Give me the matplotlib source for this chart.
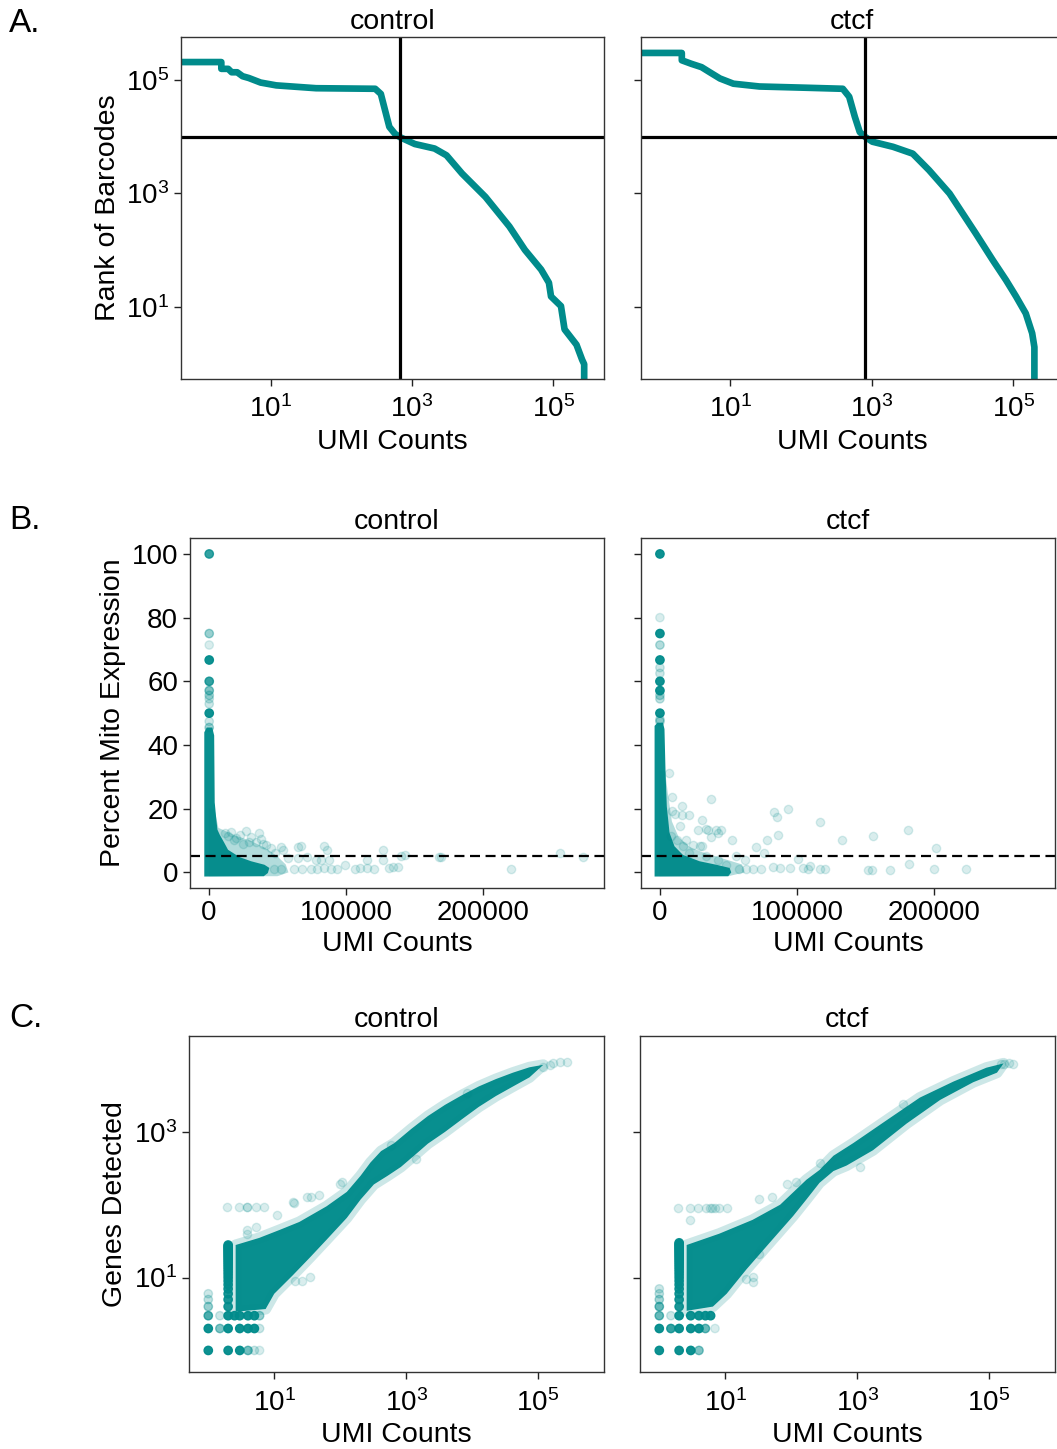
import numpy as np
import matplotlib
matplotlib.use('Agg')
import matplotlib.pyplot as plt
from matplotlib.ticker import NullLocator

plt.rcParams['font.family'] = ['Liberation Sans', 'DejaVu Sans']
plt.rcParams['mathtext.default'] = 'regular'

TEAL = 'darkcyan'
W, H = 1057, 1449
LABEL_FS = 20.5
TICK_FS = 20
samples = ['control', 'ctcf']

# ---------------- A. knee plot (UMI counts vs barcode rank) ----------------
knee_umi = {
    'control': [0.3, 2, 2, 2.5, 2.8, 3.35, 4, 4.9, 7.2, 12, 44, 302, 363, 417, 479, 575, 676,
                1100, 2090, 3090, 5130, 11000, 24000, 39800, 67600, 87100, 93300, 129000,
                145000, 214000, 257000, 275000, 275000],
    'ctcf': [0.3, 2.05, 2.05, 2.8, 3.9, 5.1, 7.1, 11, 25.7, 107, 389, 479, 575, 676, 813, 1020,
             2000, 3800, 6460, 12600, 29500, 51300, 79400, 110000, 151000, 186000, 200000,
             200000, 200000],
}
knee_rank = {
    'control': [204000, 204000, 155000, 155000, 135000, 135000, 115000, 107000, 89000, 79400,
                70800, 69200, 56200, 28800, 14800, 11200, 9770, 7400, 6170, 4680, 2240, 870,
                263, 102, 46, 27, 15.5, 10.5, 4.1, 2.2, 1.2, 1, 0.3],
    'ctcf': [295000, 295000, 219000, 190000, 166000, 135000, 105000, 85000, 75900, 72400, 69200,
             50100, 22400, 12000, 9770, 8130, 6610, 5010, 2570, 1000, 200, 68, 30, 15.5, 7.8,
             3.5, 2, 1, 0.3],
}
umi_cutoff = {'control': 676, 'ctcf': 813}
rank_cutoff = 10000

# ---------------- B. percent mito vs UMI counts ----------------
# outline of the saturated region and of the lighter halo around it
mito_core_x = {
    'control': [-3300, -3300, -1500, 2500, 3900, 4300, 5500, 6300, 8000, 11000, 14000, 22400,
                30800, 40500, 44100, 43000, 40000, -3300],
    'ctcf': [-3600, -3600, -1500, 2500, 3600, 4400, 5300, 7300, 10900, 17000, 29100, 41300,
             51000, 52200, 50000, -3600],
}
mito_core_y = {
    'control': [-1.3, 44, 45.5, 45.5, 43, 22, 16.5, 13.4, 11.8, 9.5, 7.1, 4.8, 3.5, 2.4, 1.4,
                -0.2, -1.2, -1.3],
    'ctcf': [-1.3, 46, 47, 47, 45, 31.2, 20.7, 12.4, 8.2, 5.5, 3.5, 2.4, 1.4, 0, -1.2, -1.3],
}
mito_halo_x = {
    'control': [0, 4000, 7000, 12000, 20000, 30000, 42000, 50000, 56000, 58000, 50000, 0],
    'ctcf': [0, 4000, 6000, 9000, 14000, 22000, 30000, 45000, 60000, 62000, 50000, 0],
}
mito_halo_y = {
    'control': [20, 20, 14, 13, 11.5, 10, 7.5, 5, 2.5, 0, -1.2, -1.2],
    'ctcf': [32, 32, 25, 16, 11, 8, 6.5, 4.5, 2.5, 0, -1.2, -1.2],
}
# barcodes at very low UMI with high mito fraction
mito_high_y = {
    'control': [100, 75, 71.4, 66.7, 60, 57.1, 55.6, 54.5, 52.9, 50, 47.4, 45.5],
    'ctcf': [100, 80, 75, 71.4, 66.7, 64.3, 62.5, 60, 57.1, 55.6, 54.5, 50, 48, 47.4],
}
mito_high_a = {
    'control': [0.8, 0.4, 0.15, 0.95, 0.8, 0.5, 0.3, 0.2, 0.2, 0.95, 0.2, 0.35],
    'ctcf': [0.95, 0.15, 0.95, 0.3, 0.95, 0.2, 0.2, 0.95, 0.95, 0.3, 0.25, 0.95, 0.25, 0.3],
}
# sparse barcodes
mito_pts_x = {
    'control': [11600, 16400, 27200, 36900, 20000, 29600, 34500, 39300, 45300, 52500, 53700,
                64600, 66900, 83900, 86300, 71800, 64600, 57400, 77800, 81500, 87500, 115000,
                127000, 127000, 140000, 143000, 168000, 93500, 99500, 106700, 110000, 115000,
                120000, 131000, 134500, 138000, 88700, 83900, 79000, 74200, 68200, 62200,
                52500, 47700, 169000, 220000, 256000, 272600, 14000, 18000, 23000, 25000,
                31000, 38000, 42000, 48000],
    'ctcf': [6800, 9000, 37600, 16300, 9000, 11600, 16500, 21400, 31100, 14600, 27900, 34000,
             35200, 41300, 44900, 42500, 37600, 52900, 29100, 30600, 19400, 24300, 17000, 12600,
             8500, 69900, 78100, 86200, 83000, 85700, 93400, 116500, 133000, 155300, 180800,
             201000, 75700, 61900, 100700, 109200, 181500, 199700, 223300, 167500, 151700,
             154800, 116500, 120100, 108000, 104400, 95100, 82500, 87400, 74000, 68000, 58200,
             63100, 55800, 42500, 34000, 21800, 48500],
}
mito_pts_y = {
    'control': [12.4, 12.6, 13.1, 12.4, 10.8, 9.7, 9.4, 9.0, 7.6, 8.0, 7.1, 8.0, 8.2, 8.4, 6.9,
                4.8, 4.5, 4.5, 3.8, 3.8, 4.0, 3.8, 7.1, 4.0, 5.2, 5.4, 4.7, 1.0, 2.2, 1.2, 1.4,
                1.4, 1.0, 1.4, 1.6, 1.6, 1.2, 1.4, 1.0, 1.2, 1.0, 1.0, 1.0, 1.0, 4.7, 1.2, 6.1,
                4.7, 11.5, 10.2, 11.8, 9.0, 11.0, 10.5, 8.5, 6.0],
    'ctcf': [31.2, 23.6, 23.2, 20.7, 19.4, 18.4, 18.1, 18.1, 16.5, 14.5, 13.2, 13.6, 13.2, 13.2,
             13.4, 12.4, 11.1, 10.3, 8.2, 8.4, 10.3, 8.7, 8.4, 10.3, 11.3, 8.0, 10.3, 11.8, 19.0,
             17.4, 20.0, 15.8, 10.1, 11.3, 13.3, 7.6, 6.1, 4.0, 4.2, 2.1, 2.7, 1.0, 1.0, 0.8,
             0.8, 0.8, 1.0, 1.0, 1.0, 1.5, 1.4, 1.6, 1.4, 1.0, 1.0, 1.0, 1.0, 5.0, 4.0, 5.0,
             6.1, 2.4],
}
mito_cutoff = 5

# ---------------- C. genes detected vs UMI counts ----------------
band_up_x = {
    'control': [2.6, 5.9, 12, 24, 62, 126, 204, 288, 417, 661, 1200, 2140, 3890, 7080, 12600,
                22900, 41700, 74100, 120000],
    'ctcf': [2.6, 8.1, 26, 68, 170, 269, 437, 871, 2820, 8910, 28800, 91200, 166000],
}
band_up_y = {
    'control': [28, 35, 45, 58, 95, 150, 250, 380, 545, 700, 1100, 1650, 2350, 3200, 4200, 5300,
                6500, 7700, 8320],
    'ctcf': [28, 40, 62, 100, 220, 300, 470, 700, 1450, 2950, 4900, 7600, 8710],
}
band_lo_x = {
    'control': [2.6, 7.4, 10, 19, 35, 62, 126, 204, 324, 525, 832, 1350, 2140, 3890, 7080,
                12600, 22900, 41700, 74100, 120000],
    'ctcf': [2.6, 6.5, 10.5, 21, 47, 107, 170, 269, 437, 692, 1740, 5620, 18200, 57500, 132000,
             166000],
}
band_lo_y = {
    'control': [3.4, 3.7, 6.0, 10.7, 19, 33, 66, 118, 190, 250, 330, 480, 690, 1000, 1500, 2200,
                3100, 4200, 5600, 8320],
    'ctcf': [3.5, 4.0, 6.0, 13, 30, 70, 118, 200, 290, 345, 560, 1300, 2750, 4800, 6500, 8710],
}
# discrete low-count barcodes
lat_x = {
    'control': [1, 2, 3, 4, 5, 6, 1, 1.5, 2, 3, 4, 5, 6, 1, 1.5, 2, 2.5, 3, 4, 5, 6, 1, 1, 1]
               + [2] * 25,
    'ctcf': [1, 2, 3, 4, 1, 1.5, 2, 3, 4, 5, 7, 1, 1.5, 2, 3, 4, 5, 6, 1, 1, 1, 1] + [2] * 27,
}
lat_y = {
    'control': [1, 1, 1, 1, 1, 1, 2, 2, 2, 2, 2, 2, 2, 3, 3, 3, 3, 3, 3, 3, 3, 4, 5, 6]
               + list(range(4, 29)),
    'ctcf': [1, 1, 1, 1, 2, 2, 2, 2, 2, 2, 2, 3, 3, 3, 3, 3, 3, 3, 4, 5, 6, 7]
            + list(range(4, 31)),
}
lat_a = {
    'control': [0.95, 0.95, 0.95, 0.55, 0.2, 0.15, 0.95, 0.5, 0.95, 0.95, 0.95, 0.95, 0.2,
                0.7, 0.2, 0.95, 0.95, 0.95, 0.95, 0.95, 0.4, 0.4, 0.25, 0.2] + [0.9] * 25,
    'ctcf': [0.95, 0.95, 0.95, 0.5, 0.95, 0.8, 0.95, 0.95, 0.95, 0.6, 0.15, 0.6, 0.2, 0.95,
             0.95, 0.95, 0.95, 0.95, 0.6, 0.35, 0.25, 0.2] + [0.9] * 27,
}
genes_pts_x = {
    'control': [1.9, 2.9, 3.9, 3.9, 5.2, 7.1, 11.2, 20, 3.9, 3.9, 5.2, 19, 31, 36, 47, 100, 107,
                1410, 589, 8320, 21, 26, 35, 120000, 170000, 214000, 275000, 150000],
    'ctcf': [1.9, 2.9, 3.8, 5.1, 5.8, 6.3, 7.1, 8.1, 10.5, 2.9, 33, 52, 85, 120, 26, 21, 26, 33,
             269, 1100, 5010, 166000, 200000, 234000, 150000],
}
genes_pts_y = {
    'control': [93, 93, 93, 93, 93, 93, 72, 107, 45, 40, 50, 110, 129, 129, 135, 195, 204, 427,
                661, 3390, 9.1, 9.1, 10.2, 7760, 8710, 9120, 9120, 8320],
    'ctcf': [89, 89, 89, 89, 89, 89, 89, 89, 89, 62, 120, 129, 195, 204, 10.2, 9.5, 8.7, 21,
             372, 331, 2450, 8510, 8710, 8510, 8510],
}


def style_axes(ax, log_x=False):
    for sp in ax.spines.values():
        sp.set_color('#333333')
        sp.set_linewidth(1.0)
    ax.tick_params(labelsize=TICK_FS, length=5, width=1, color='#222222')
    if log_x:
        ax.tick_params(axis='x', pad=7)


def add_ax(l, t, r, b):
    return fig.add_axes([l / W, 1 - b / H, (r - l) / W, (b - t) / H])


fig = plt.figure(figsize=(W / 100, H / 100), dpi=100)

# ---- row A ----
axA = [add_ax(181, 37, 604, 379), add_ax(640.7, 37, 1064, 379)]
for ax, s in zip(axA, samples):
    ax.plot(knee_umi[s], knee_rank[s], color=TEAL, lw=4.8, solid_joinstyle='round')
    ax.axvline(umi_cutoff[s], color='black', lw=2.3)
    ax.axhline(rank_cutoff, color='black', lw=2.3)
    ax.set_xscale('log')
    ax.set_yscale('log')
    ax.set_xlim(10 ** -0.27, 10 ** 5.72)
    ax.set_ylim(10 ** -0.26, 10 ** 5.75)
    ax.set_xticks([1e1, 1e3, 1e5])
    ax.set_yticks([1e1, 1e3, 1e5])
    ax.xaxis.set_minor_locator(NullLocator())
    ax.yaxis.set_minor_locator(NullLocator())
    ax.set_title(s, fontsize=LABEL_FS)
    ax.set_xlabel('UMI Counts', fontsize=LABEL_FS)
    style_axes(ax, log_x=True)
axA[0].set_ylabel('Rank of Barcodes', fontsize=LABEL_FS)
axA[1].set_yticklabels([])

# ---- row B ----
axB = [add_ax(190, 537.7, 604, 888), add_ax(640.7, 537.7, 1055, 888)]
for ax, s in zip(axB, samples):
    ax.fill(mito_halo_x[s], mito_halo_y[s], color=TEAL, alpha=0.3, lw=0)
    ax.fill(mito_core_x[s], mito_core_y[s], color=TEAL, alpha=0.97, lw=0)
    ax.scatter([300] * len(mito_high_y[s]), mito_high_y[s], color=TEAL,
               alpha=mito_high_a[s], linewidths=1, edgecolors='face')
    ax.scatter(mito_pts_x[s], mito_pts_y[s], color=TEAL, alpha=0.15,
               linewidths=1, edgecolors='face')
    ax.axhline(mito_cutoff, color='black', lw=1.6, ls=(0, (4.5, 2.5)))
    ax.set_xlim(-13700, 287800)
    ax.set_ylim(-4.9, 105.1)
    ax.set_xticks([0, 100000, 200000])
    ax.set_yticks([0, 20, 40, 60, 80, 100])
    ax.set_title(s, fontsize=LABEL_FS)
    ax.set_xlabel('UMI Counts', fontsize=LABEL_FS)
    style_axes(ax)
axB[0].set_ylabel('Percent Mito Expression', fontsize=LABEL_FS)
axB[1].set_yticklabels([])

# ---- row C ----
axC = [add_ax(188.5, 1035.7, 604, 1372.3), add_ax(639.5, 1035.7, 1055, 1372.3)]
for ax, s in zip(axC, samples):
    ax.set_xscale('log')
    ax.set_yscale('log')
    px = list(band_up_x[s]) + list(band_lo_x[s])[::-1]
    py = list(band_up_y[s]) + list(band_lo_y[s])[::-1]
    # soft fringe then saturated core
    ax.fill(px, py, facecolor='none', edgecolor=TEAL, alpha=0.2, lw=8, joinstyle='round')
    ax.fill(px, py, color=TEAL, alpha=0.97, lw=0)
    ax.scatter(lat_x[s], lat_y[s], color=TEAL, alpha=lat_a[s], linewidths=1, edgecolors='face')
    ax.scatter(genes_pts_x[s], genes_pts_y[s], color=TEAL, alpha=0.15,
               linewidths=1, edgecolors='face')
    ax.set_xlim(10 ** -0.3, 10 ** 6.0)
    ax.set_ylim(10 ** -0.3, 10 ** 4.32)
    ax.set_xticks([1e1, 1e3, 1e5])
    ax.set_yticks([1e1, 1e3])
    ax.xaxis.set_minor_locator(NullLocator())
    ax.yaxis.set_minor_locator(NullLocator())
    ax.set_title(s, fontsize=LABEL_FS)
    ax.set_xlabel('UMI Counts', fontsize=LABEL_FS)
    style_axes(ax, log_x=True)
axC[0].set_ylabel('Genes Detected', fontsize=LABEL_FS)
axC[1].set_yticklabels([])

for lab, top in [('A.', 8), ('B.', 505), ('C.', 1003)]:
    fig.text(9 / W, 1 - top / H, lab, fontsize=24, va='top', ha='left')

fig.savefig('out.png', dpi=100)
